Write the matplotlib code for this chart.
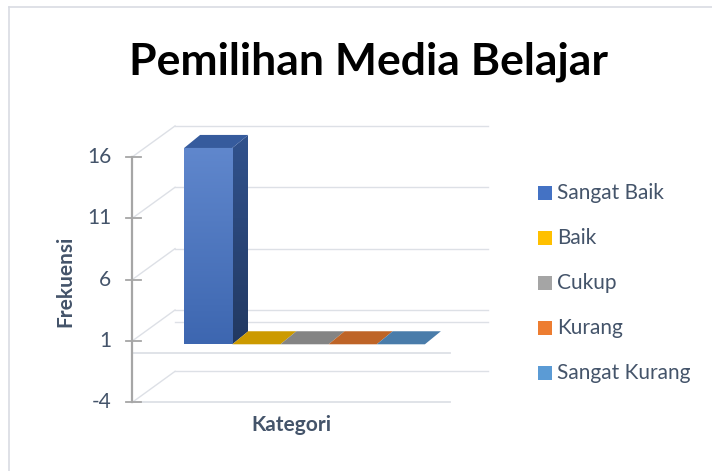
import matplotlib
matplotlib.use('Agg')
import matplotlib.pyplot as plt
import numpy as np
from matplotlib.colors import to_rgb
from matplotlib.patches import Polygon, Rectangle

# Chart data
title = 'Pemilihan Media Belajar'
series = ['Sangat Baik', 'Baik', 'Cukup', 'Kurang', 'Sangat Kurang']
values = [16, 0, 0, 0, 0]
y_ticks = [-4, 1, 6, 11, 16]
x_label = 'Kategori'
y_label = 'Frekuensi'

colors = ['#4472c4', '#ffc000', '#a5a5a5', '#ed7d31', '#5b9bd5']
text_c = '#44546a'
grid_c = '#dde0e6'
axis_c = '#a6a6a6'

W, H, DPI = 712, 471, 100
plt.rcParams['font.family'] = ['Lato', 'DejaVu Sans']

fig = plt.figure(figsize=(W / DPI, H / DPI), dpi=DPI)
ax = fig.add_axes([0, 0, 1, 1])

# pixel scale of the front plane: one bar width and one value unit
SX, X0 = 48.15, 137
SY, Y0 = 12.27, 353.3
xlim = (-X0 / SX, (W - X0) / SX)
ylim = ((Y0 - H) / SY, Y0 / SY)

gap = 1.5                 # Excel gap width 150%
span = len(series) + gap  # width of the category band
DX, DY = 0.79, 2.53       # depth offset of the back wall
f_front, f_back = 0.29, 0.71
ax_x = -0.1               # x position of the value axis

# gridlines: diagonal on the side wall, horizontal on the back wall
for t in y_ticks:
    ax.plot([ax_x, DX], [t, t + DY], color=grid_c, lw=1, zorder=1)
    ax.plot([DX, span + DX], [t + DY, t + DY], color=grid_c, lw=1, zorder=1)
# category plane at zero and floor at the axis minimum
ax.plot([DX, span + DX], [DY, DY], color=grid_c, lw=1, zorder=1)
for base in [0, y_ticks[0]]:
    ax.plot([ax_x, span], [base, base], color=grid_c, lw=1.3, zorder=1)

# value axis
ax.plot([ax_x, ax_x], [y_ticks[0], y_ticks[-1]], color=axis_c, lw=1.6, zorder=2)
for t in y_ticks:
    ax.plot([ax_x - 6 / SX, ax_x + 9 / SX], [t, t], color=axis_c, lw=1.3, zorder=2)
    ax.text(ax_x - 21 / SX, t, str(t), ha='right', va='center',
            fontsize=15, color=text_c)

# 3D-looking columns
fx, fy = f_front * DX, f_front * DY
bx, by = f_back * DX, f_back * DY
for i, (v, c) in enumerate(zip(values, colors)):
    x0 = gap / 2 + i
    rgb = np.array(to_rgb(c))
    top = [(x0 + fx, v + fy), (x0 + 1 + fx, v + fy),
           (x0 + 1 + bx, v + by), (x0 + bx, v + by)]
    ax.add_patch(Polygon(top, closed=True, color=rgb * 0.8, lw=0, zorder=4))
    if v == 0:
        continue
    side = [(x0 + 1 + fx, fy), (x0 + 1 + bx, by),
            (x0 + 1 + bx, v + by), (x0 + 1 + fx, v + fy)]
    side_patch = Polygon(side, closed=True, facecolor='none', lw=0, zorder=3)
    ax.add_patch(side_patch)
    grad = np.linspace(0, 1, 100)[:, None, None]
    side_img = (rgb * 0.72) * (1 - grad) + (rgb * 0.5) * grad
    im = ax.imshow(side_img, extent=(x0 + 1 + fx, x0 + 1 + bx, fy, v + by),
                   origin='upper', aspect='auto', zorder=3)
    im.set_clip_path(side_patch)

    front = Rectangle((x0 + fx, fy), 1, v, facecolor='none', lw=0, zorder=3)
    ax.add_patch(front)
    light = rgb + (1 - rgb) * 0.15
    dark = rgb * 0.9
    front_img = light * (1 - grad) + dark * grad
    im = ax.imshow(front_img, extent=(x0 + fx, x0 + 1 + fx, fy, v + fy),
                   origin='upper', aspect='auto', zorder=3)
    im.set_clip_path(front)

ax.set_xlim(*xlim)
ax.set_ylim(*ylim)
ax.axis('off')

# chart border (top and left edges visible)
fig.add_artist(plt.Line2D([9 / W, 1], [1 - 7 / H, 1 - 7 / H],
                          transform=fig.transFigure, color='#d9dce3', lw=1.2))
fig.add_artist(plt.Line2D([9 / W, 9 / W], [0, 1 - 7 / H],
                          transform=fig.transFigure, color='#d9dce3', lw=1.2))

# titles
fig.text(368 / W, 1 - 74 / H, title, ha='center', va='baseline',
         fontsize=32, fontweight='bold', color='black')
fig.text(65 / W, 1 - 281 / H, y_label, ha='center', va='center', rotation=90,
         fontsize=15, fontweight='bold', color=text_c)
fig.text(291 / W, 1 - 431 / H, x_label, ha='center', va='baseline',
         fontsize=15, fontweight='bold', color=text_c)

# legend
for i, (name, c) in enumerate(zip(series, colors)):
    y = 193 + 45 * i
    fig.add_artist(Rectangle((538 / W, 1 - (y + 7) / H), 14 / W, 14 / H,
                             transform=fig.transFigure, color=c, lw=0))
    fig.text(557 / W, 1 - y / H, name, ha='left', va='center',
             fontsize=15, color=text_c)

fig.savefig('out.png', dpi=DPI)
